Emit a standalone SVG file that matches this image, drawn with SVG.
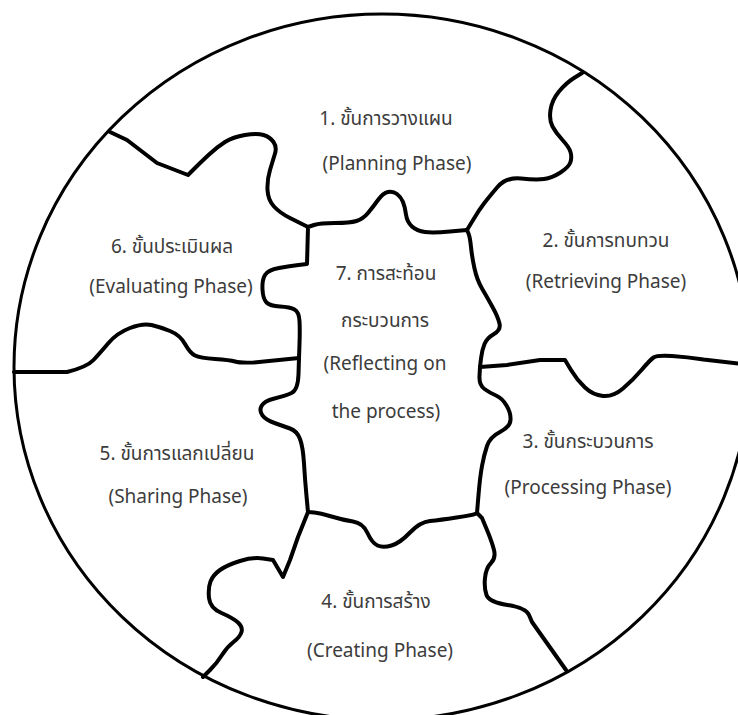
<svg xmlns="http://www.w3.org/2000/svg" width="738" height="715" viewBox="0 0 738 715">
<style>
.bd{fill:none;stroke:#000;stroke-width:4;stroke-linejoin:round;stroke-linecap:round}
.rim{fill:none;stroke:#000;stroke-width:3}
text{font-family:"Noto Sans","Noto Sans Thai","DejaVu Sans",sans-serif;font-size:19px;fill:#3c3c3c;text-anchor:middle}
</style>
<rect width="738" height="715" fill="#fff"/>
<ellipse class="rim" cx="382" cy="367" rx="368" ry="353"/>
<g id="connectors">
<path class="bd" d="M308,227 L314,225 Q320,223 335,223 Q350,223 356.5,221 Q363,219 368,213 Q373,207 378,200 Q383,193 388,192 Q393,191 397,194 Q401,197 403,202 Q405,207 406,214.5 Q407,222 412,226.5 Q417,231 425,232 Q433,233 450,231.5 L467,230 L468.5,233.5 Q470,237 471,247 Q472,257 474.5,268.5 Q477,280 482,288.5 Q487,297 492.5,307 Q498,317 499.5,323.5 Q501,330 494,334 Q487,338 484.5,344 Q482,350 481,358.5 L480,367 L479.5,376 Q479,385 484.5,389 Q490,393 496,395.5 Q502,398 506.5,405.5 Q511,413 510.5,420 Q510,427 500,432 Q490,437 487,446 Q484,455 482,466 Q480,477 478.5,495 L477,513 L475,514 Q473,515 456.5,517.5 Q440,520 430,521 Q420,522 410,532.5 Q400,543 391.5,545.5 Q383,548 377.5,545.5 Q372,543 367.5,533 Q363,523 353,521.5 Q343,520 331.5,516.5 Q320,513 314,512.5 L308,512 L306.5,496 Q305,480 304,463.5 Q303,447 300,439 Q297,431 290,428.5 Q283,426 274.5,423 Q266,420 262.5,415.5 Q259,411 261.5,406 Q264,401 274.5,398.5 Q285,396 291.5,393 Q298,390 298.5,374 L299,358 L299.5,344 Q300,330 299.5,321 Q299,312 294.5,309.5 Q290,307 280,306.5 Q270,306 266.5,302.5 Q263,299 262.5,289.5 Q262,280 265,275 Q268,270 279,268 Q290,266 298.5,265 L307,264 L308,227 Z"/>
<path class="bd" d="M110,132 L127,140 L157,163 L188,175 L194,169 Q200,163 208.5,155 Q217,147 225,142 Q233,137 245,135 Q257,133 263.5,135 Q270,137 273.5,142 Q277,147 275,153.5 Q273,160 270,170 Q267,180 267.5,190 Q268,200 274,206.5 Q280,213 290,218 Q300,223 304,225 L308,227"/>
<path class="bd" d="M467,230 L474,218.5 Q479,210 484,203.5 Q489,197 497.5,187 Q506,177 521,178.5 Q536,180 544,179 Q552,178 560.5,172.5 Q569,167 570.5,162 Q572,157 570.5,152 Q569,147 562.5,140 Q556,133 552.5,126.5 Q549,120 550.5,110 Q552,100 559,91.5 Q566,83 574,78 L582,73"/>
<path class="bd" d="M480,367 L507,365 L540,360 L565,360 L571,370 Q577,380 585,387.5 Q593,395 603,396 Q613,397 623,388.5 Q633,380 641.5,370 Q650,360 653.5,357.5 Q657,355 672,356 Q687,357 703.5,359.5 L742,364"/>
<path class="bd" d="M14,372 L67,372 Q87,367 93.5,360 Q100,353 108.5,343 Q117,333 130,328 Q143,323 151.5,325 Q160,327 170,331 Q180,335 185,344 Q190,353 195,355.5 Q200,358 215,359 Q230,360 235,361.5 Q240,363 253.5,362.5 L299,358"/>
<path class="bd" d="M308,512 L298,537 L290,560 L283,577 L273,560 L263,558.5 Q253,557 240,561 Q227,565 220,570 Q213,575 210.5,581.5 Q208,588 209,598 Q210,608 221.5,613 Q233,618 238,622.5 Q243,627 241.5,632 Q240,637 233.5,642 Q227,647 222,655 Q217,663 210,670 L203,677"/>
<path class="bd" d="M477,513 L482,518 L487,530 Q492,542 494,550 Q496,558 491,563 Q486,568 485,578 Q484,588 486.5,595 Q489,602 507.5,605 Q526,608 529,615 L532,622 L566,670"/>
</g>
<g id="phase1"><text x="386" y="125">1. ขั้นการวางแผน</text><text x="397" y="170">(Planning Phase)</text></g>
<g id="phase2"><text x="606" y="247">2. ขั้นการทบทวน</text><text x="606" y="288">(Retrieving Phase)</text></g>
<g id="phase3"><text x="588" y="448">3. ขั้นกระบวนการ</text><text x="588" y="494">(Processing Phase)</text></g>
<g id="phase4"><text x="376" y="608">4. ขั้นการสร้าง</text><text x="380" y="657">(Creating Phase)</text></g>
<g id="phase5"><text x="177" y="460">5. ขั้นการแลกเปลี่ยน</text><text x="178" y="503">(Sharing Phase)</text></g>
<g id="phase6"><text x="172" y="253">6. ขั้นประเมินผล</text><text x="171" y="293">(Evaluating Phase)</text></g>
<g id="phase7"><text x="386" y="280">7. การสะท้อน</text><text x="385" y="327">กระบวนการ</text><text x="385" y="370">(Reflecting on</text><text x="386" y="418">the process)</text></g>
</svg>
